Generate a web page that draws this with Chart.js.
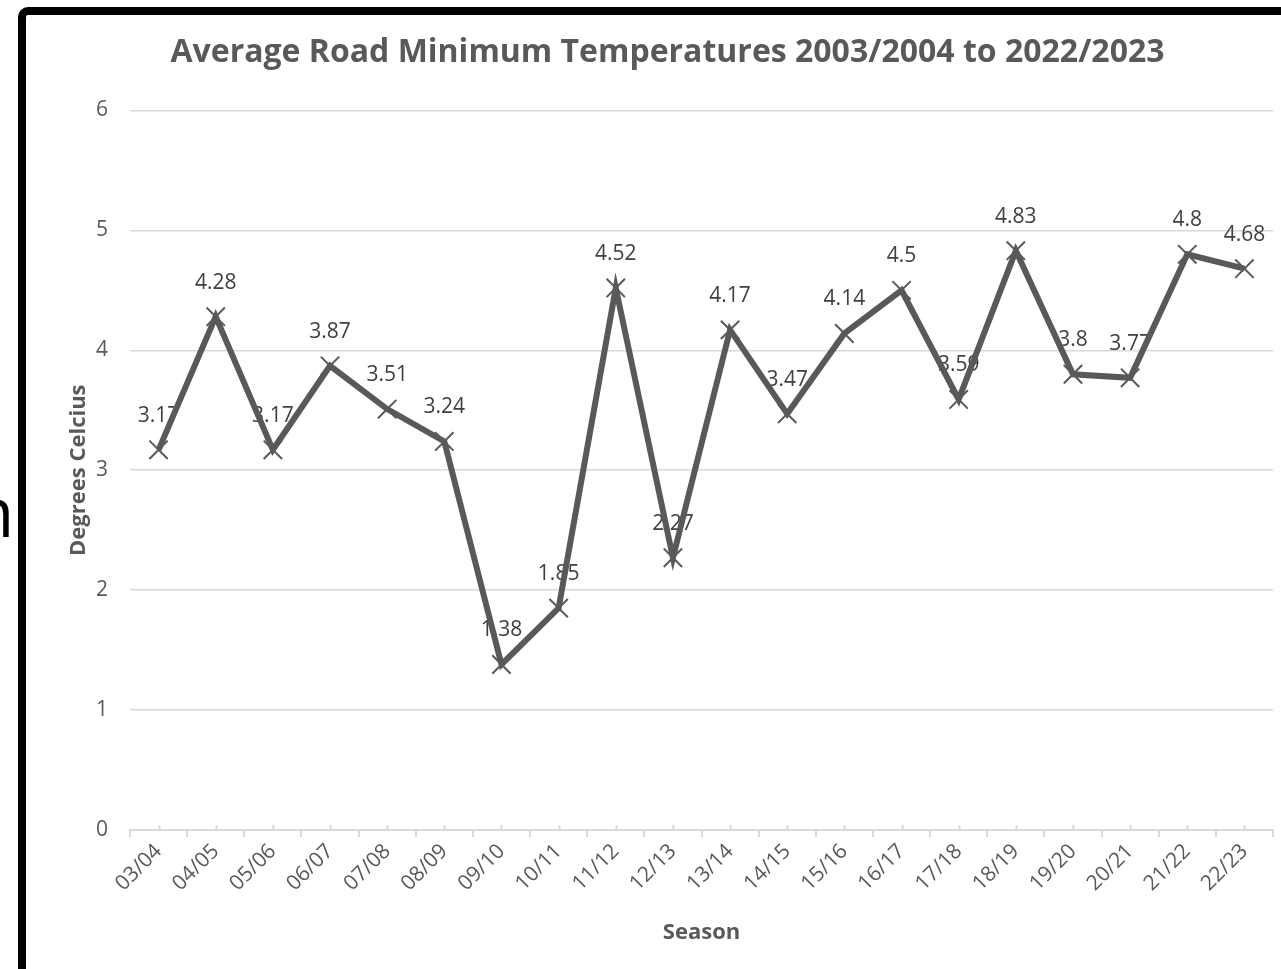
<!DOCTYPE html>
<html>
<head>
<meta charset="utf-8">
<title>Average Road Minimum Temperatures</title>
<script src="https://cdn.jsdelivr.net/npm/chart.js@4/dist/chart.umd.min.js"></script>
<style>
  html, body { margin: 0; padding: 0; background: #fff; overflow: hidden; }
  #frame {
    position: absolute; left: 18px; top: 7px;
    width: 1400px; height: 1100px;
    border: 8px solid #000; border-radius: 10px;
  }
  #stray {
    position: absolute; left: -28px; top: 476px;
    font: 69px/1 "Open Sans", sans-serif; color: #000;
  }
  #myChart { position: absolute; left: 0; top: 0; }
</style>
</head>
<body>
<div id="stray">n</div>
<div id="frame"></div>
<canvas id="myChart" width="1281" height="969"></canvas>
<script>
// Chart data
let seasons = ["03/04", "04/05", "05/06", "06/07", "07/08", "08/09", "09/10", "10/11", "11/12", "12/13",
  "13/14", "14/15", "15/16", "16/17", "17/18", "18/19", "19/20", "20/21", "21/22", "22/23"];
let roadMinTemps = [3.17, 4.28, 3.17, 3.87, 3.51, 3.24, 1.38, 1.85, 4.52, 2.27,
  4.17, 3.47, 4.14, 4.5, 3.59, 4.83, 3.8, 3.77, 4.8, 4.68];
let yMin = 0;
let yMax = 6;
let yStep = 1;

let textGrey = "#595959";
let gridGrey = "#d9d9d9";

Chart.defaults.font.family = '"Open Sans", sans-serif';

// Draws the value above each point, underneath the line like Excel does
const valueLabels = {
  id: "valueLabels",
  beforeDatasetsDraw(chart) {
    const ctx = chart.ctx;
    const meta = chart.getDatasetMeta(0);
    ctx.save();
    ctx.font = '21px "Open Sans", sans-serif';
    ctx.fillStyle = "#404040";
    ctx.textAlign = "center";
    ctx.textBaseline = "middle";
    meta.data.forEach(function (pt, i) {
      ctx.fillText(String(chart.data.datasets[0].data[i]), pt.x, pt.y - 34);
    });
    ctx.restore();
  },
};

// Small tick marks poking up from the axis at each category
const innerTicks = {
  id: "innerTicks",
  afterDraw(chart) {
    const ctx = chart.ctx;
    const x = chart.scales.x;
    ctx.save();
    ctx.strokeStyle = gridGrey;
    ctx.lineWidth = 2;
    for (let i = 0; i < seasons.length; i++) {
      let px = Math.round(x.getPixelForValue(i)) + 0.5;
      ctx.beginPath();
      ctx.moveTo(px, x.top);
      ctx.lineTo(px, x.top - 5);
      ctx.stroke();
    }
    ctx.restore();
  },
};

const config = {
  type: "line",
  data: {
    labels: seasons,
    datasets: [
      {
        label: "Average road minimum",
        data: roadMinTemps,
        borderColor: textGrey,
        borderWidth: 6,
        tension: 0,
        pointStyle: "crossRot",
        pointRadius: 13,
        pointBorderWidth: 2,
        pointBorderColor: textGrey,
        pointBackgroundColor: textGrey,
      },
    ],
  },
  options: {
    responsive: false,
    animation: false,
    devicePixelRatio: 1,
    layout: {
      autoPadding: false,
      padding: { left: 62, right: 8, top: 15, bottom: 19 },
    },
    plugins: {
      legend: { display: false },
      tooltip: { enabled: false },
      title: {
        display: true,
        text: "Average Road Minimum Temperatures 2003/2004 to 2022/2023",
        color: textGrey,
        font: { size: 32, weight: "bold" },
        padding: { top: 19, bottom: 38 },
      },
    },
    scales: {
      x: {
        offset: true,
        grid: {
          display: true,
          offset: true,
          drawOnChartArea: false,
          color: gridGrey,
          lineWidth: 2,
          tickLength: 7,
        },
        border: { color: gridGrey, width: 2 },
        ticks: {
          color: textGrey,
          font: { size: 21 },
          minRotation: 45,
          maxRotation: 45,
          padding: 2,
        },
        title: {
          display: true,
          text: "Season",
          color: textGrey,
          font: { size: 22, weight: "bold" },
        },
        afterFit(scale) {
          scale.height = 120;
          scale.paddingRight = 0;
        },
      },
      y: {
        min: yMin,
        max: yMax,
        ticks: {
          stepSize: yStep,
          color: textGrey,
          font: { size: 21 },
          padding: 22,
        },
        grid: { color: gridGrey, lineWidth: 1.5, drawTicks: false },
        border: { display: false },
        title: {
          display: true,
          text: "Degrees Celcius",
          color: textGrey,
          font: { size: 22, weight: "bold" },
        },
        afterFit(scale) {
          scale.width = 68;
        },
      },
    },
  },
  plugins: [valueLabels, innerTicks],
};

const myChart = new Chart(document.getElementById("myChart").getContext("2d"), config);
</script>
</body>
</html>
